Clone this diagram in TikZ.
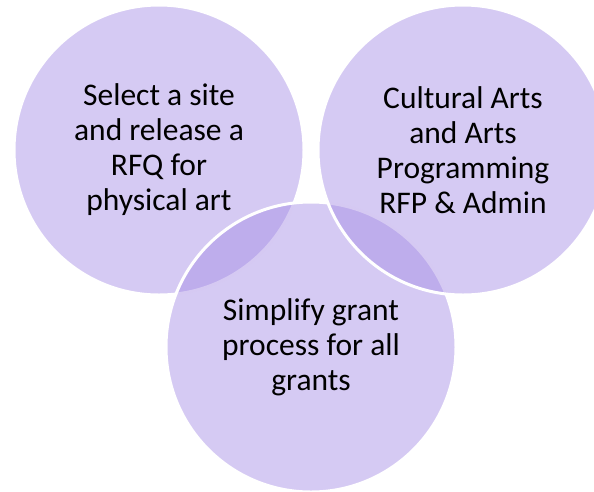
\documentclass[tikz,border=0pt]{standalone}
\usepackage{fontspec}
\setmainfont{Carlito}
\definecolor{venn}{RGB}{162,137,228}
\begin{document}
\begin{tikzpicture}[x=1pt,y=-1pt,
  vcircle/.style={circle,minimum size=290pt,inner sep=0pt,fill=venn,fill opacity=0.45,draw=white,draw opacity=1,line width=3pt},
  vtext/.style={align=center,text=black,font=\fontsize{31.5}{35}\selectfont,text opacity=1}]
\useasboundingbox (0,0) rectangle (594,491);
\node[vcircle] (a) at (159,150) {};
\node[vcircle] (c) at (311,347) {};
\node[vcircle] (b) at (463,150) {};
\node[vtext] (ta) at (159,150) {Select a site\\and release a\\RFQ for\\physical art};
\node[vtext] (tb) at (463,150) {Cultural Arts\\and Arts\\Programming\\RFP \& Admin};
\node[vtext] (tc) at (311,347) {Simplify grant\\process for all\\grants};
\end{tikzpicture}
\end{document}
